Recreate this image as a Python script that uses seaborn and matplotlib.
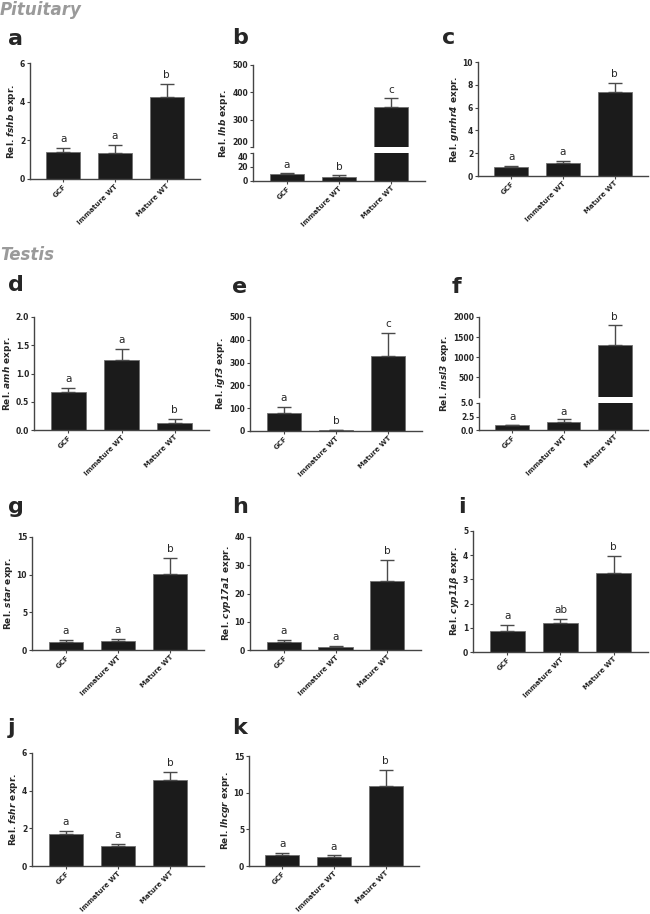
import numpy as np
import pandas as pd
import matplotlib
matplotlib.use('Agg')
import matplotlib.pyplot as plt
import seaborn as sns

# gruplar (x ekseni)
groups = ['GCF', 'Immature WT', 'Mature WT']

# hipofiz genleri: ortalama, hata (SEM, sadece yukarı) ve anlamlılık harfleri
fshb_mean = [1.38, 1.35, 4.25]
fshb_err = [0.22, 0.40, 0.65]
fshb_sig = ['a', 'a', 'b']

lhb_mean = [9.3, 5.4, 346]
lhb_err = [2.4, 3.4, 34]
lhb_sig = ['a', 'b', 'c']

gnrhr4_mean = [0.80, 1.10, 7.35]
gnrhr4_err = [0.06, 0.20, 0.80]
gnrhr4_sig = ['a', 'a', 'b']

# testis genleri
amh_mean = [0.67, 1.24, 0.12]
amh_err = [0.08, 0.20, 0.07]
amh_sig = ['a', 'a', 'b']

igf3_mean = [78, 3, 330]
igf3_err = [28, 3, 98]
igf3_sig = ['a', 'b', 'c']

insl3_mean = [0.85, 1.45, 1310]
insl3_err = [0.15, 0.55, 490]
insl3_sig = ['a', 'a', 'b']

star_mean = [1.10, 1.15, 10.1]
star_err = [0.20, 0.25, 2.1]
star_sig = ['a', 'a', 'b']

cyp17a1_mean = [2.8, 1.1, 24.6]
cyp17a1_err = [0.6, 0.4, 7.4]
cyp17a1_sig = ['a', 'a', 'b']

cyp11b_mean = [0.88, 1.18, 3.25]
cyp11b_err = [0.24, 0.17, 0.72]
cyp11b_sig = ['a', 'ab', 'b']

fshr_mean = [1.72, 1.05, 4.58]
fshr_err = [0.15, 0.13, 0.40]
fshr_sig = ['a', 'a', 'b']

lhcgr_mean = [1.55, 1.20, 10.85]
lhcgr_err = [0.20, 0.25, 2.20]
lhcgr_sig = ['a', 'a', 'b']

W, H = 650, 914
BAR = '#1b1b1b'
EDGE = '#707070'
ERR = '#4a4a4a'
SPINE = '#444444'
TICK_FS = 5.5
XLAB_FS = 5.0
YLAB_FS = 6.5
SIG_FS = 7.5

sns.set_theme(style='ticks')
plt.rcParams['font.family'] = ['DejaVu Sans']
plt.rcParams['mathtext.fontset'] = 'dejavusans'

fig = plt.figure(figsize=(W / 100, H / 100), dpi=100)

# y etiketleri sonradan (tick yazılarının soluna) yerleştirilecek
ylabels = []


# piksel kutusundan eksen oluşturuyorum (sol, üst, sağ, alt)
def px_ax(l, t, r, b):
    return fig.add_axes([l / W, 1 - b / H, (r - l) / W, (b - t) / H])


def style_ax(ax, show_x=True):
    for s in ['top', 'right']:
        ax.spines[s].set_visible(False)
    for s in ['left', 'bottom']:
        ax.spines[s].set_color(SPINE)
        ax.spines[s].set_linewidth(1.0)
    ax.tick_params(axis='y', labelsize=TICK_FS, length=2.5, width=0.8, color=SPINE, pad=1)
    ax.tick_params(axis='x', labelsize=XLAB_FS, length=2.5, width=0.8, color=SPINE, pad=0.5)
    for lab in ax.get_yticklabels():
        lab.set_fontweight('bold')
    ax.set_xlabel('')
    ax.set_ylabel('')
    if show_x:
        ax.set_xticks(range(len(groups)))
        ax.set_xticklabels(groups, rotation=45, ha='right', rotation_mode='anchor',
                           fontweight='bold', fontsize=XLAB_FS)
    else:
        ax.spines['bottom'].set_visible(False)
        ax.tick_params(axis='x', bottom=False, labelbottom=False)
    ax.set_xlim(-0.65, 2.65)


def draw_bars(ax, mean, err, ymin=None):
    df = pd.DataFrame({'grup': groups, 'deger': mean})
    sns.barplot(data=df, x='grup', y='deger', color=BAR, edgecolor=EDGE,
                linewidth=0.6, width=0.66, saturation=1, errorbar=None, ax=ax)
    idx = [i for i in range(len(mean)) if ymin is None or mean[i] + err[i] > ymin]
    m = [mean[i] for i in idx]
    e = [err[i] for i in idx]
    ax.errorbar(idx, m, yerr=[np.zeros(len(e)), e], fmt='none',
                ecolor=ERR, elinewidth=1.0, capsize=5, capthick=1.0, zorder=1)


def add_sig(ax, mean, err, sig, which=None, off=0.035):
    lo, hi = ax.get_ylim()
    for i, (m, e, s) in enumerate(zip(mean, err, sig)):
        if which is not None and i not in which:
            continue
        ax.text(i, m + e + off * (hi - lo), s, ha='center', va='bottom', fontsize=SIG_FS)


def add_letter(letter, letter_xy):
    fig.text(letter_xy[0] / W, 1 - letter_xy[1] / H, letter, fontsize=16,
             fontweight='bold', ha='left', va='center')


def panel(box, mean, err, sig, ylim, yticks, gene, letter, letter_xy, fmt=None):
    l, t, r, b = box
    ax = px_ax(l, t, r, b)
    draw_bars(ax, mean, err)
    ax.set_ylim(*ylim)
    ax.set_yticks(yticks)
    if fmt:
        ax.set_yticklabels([fmt.format(v) for v in yticks])
    style_ax(ax)
    add_sig(ax, mean, err, sig)
    ylabels.append(([ax], (t + b) / 2, gene))
    add_letter(letter, letter_xy)
    return ax


def broken_panel(box_up, box_lo, mean, err, sig, ylim_up, yt_up, ylim_lo, yt_lo,
                 gene, letter, letter_xy, fmt_lo=None):
    l, t, r, b = box_up
    ax_u = px_ax(l, t, r, b)
    draw_bars(ax_u, mean, err, ymin=ylim_up[0])
    ax_u.set_ylim(*ylim_up)
    ax_u.set_yticks(yt_up)
    style_ax(ax_u, show_x=False)
    add_sig(ax_u, mean, err, sig, which=[2])

    l2, t2, r2, b2 = box_lo
    ax_l = px_ax(l2, t2, r2, b2)
    draw_bars(ax_l, mean, err)
    ax_l.set_ylim(*ylim_lo)
    ax_l.set_yticks(yt_lo)
    if fmt_lo:
        ax_l.set_yticklabels([fmt_lo.format(v) for v in yt_lo])
    style_ax(ax_l)
    add_sig(ax_l, mean, err, sig, which=[0, 1], off=0.09)

    # kırık eksende birbirine değen iki etiketi biraz ayırıyorum
    if yt_up[0] == ylim_up[0]:
        ax_u.get_yticklabels()[0].set_va('bottom')
        ax_l.get_yticklabels()[-1].set_va('top')

    ylabels.append(([ax_u, ax_l], (t + b2) / 2, gene))
    add_letter(letter, letter_xy)


# bölüm başlıkları
fig.text(0, 1 - 1 / H, 'Pituitary', fontsize=12, fontweight='bold', style='italic',
         color='#9a9a9a', ha='left', va='top')
fig.text(0, 1 - 246 / H, 'Testis', fontsize=12, fontweight='bold', style='italic',
         color='#9a9a9a', ha='left', va='top')

# hipofiz paneli
panel((30, 63, 200, 179), fshb_mean, fshb_err, fshb_sig, (0, 6), [0, 2, 4, 6],
      'fshb', 'a', (8, 39))
broken_panel((253, 65, 425, 147), (253, 153, 425, 181), lhb_mean, lhb_err, lhb_sig,
             (200, 500), [200, 300, 400, 500], (0, 40), [0, 20, 40],
             'lhb', 'b', (232, 38))
panel((478, 62, 648, 176), gnrhr4_mean, gnrhr4_err, gnrhr4_sig, (0, 10),
      [0, 2, 4, 6, 8, 10], 'gnrhr4', 'c', (442, 38))

# testis panelleri
panel((34, 317, 209, 430), amh_mean, amh_err, amh_sig, (0, 2.0),
      [0, 0.5, 1.0, 1.5, 2.0], 'amh', 'd', (8, 285), fmt='{:.1f}')
panel((250, 317, 422, 431), igf3_mean, igf3_err, igf3_sig, (0, 500),
      [0, 100, 200, 300, 400, 500], 'igf3', 'e', (232, 287))
broken_panel((479, 317, 648, 397), (479, 403, 648, 430), insl3_mean, insl3_err,
             insl3_sig, (5, 2000), [500, 1000, 1500, 2000], (0, 5),
             [0, 2.5, 5.0], 'insl3', 'f', (452, 287), fmt_lo='{:.1f}')

panel((32, 537, 204, 650), star_mean, star_err, star_sig, (0, 15), [0, 5, 10, 15],
      'star', 'g', (8, 507))
panel((250, 537, 421, 650), cyp17a1_mean, cyp17a1_err, cyp17a1_sig, (0, 40),
      [0, 10, 20, 30, 40], 'cyp17a1', 'h', (232, 507))
panel((473, 531, 648, 652), cyp11b_mean, cyp11b_err, cyp11b_sig, (0, 5),
      [0, 1, 2, 3, 4, 5], 'cyp11\\beta', 'i', (458, 507))

panel((32, 753, 204, 866), fshr_mean, fshr_err, fshr_sig, (0, 6), [0, 2, 4, 6],
      'fshr', 'j', (8, 728))
panel((249, 756, 419, 866), lhcgr_mean, lhcgr_err, lhcgr_sig, (0, 15), [0, 5, 10, 15],
      'lhcgr', 'k', (232, 728))

# y eksen etiketlerini tick yazılarının hemen soluna koyuyorum
fig.canvas.draw()
renderer = fig.canvas.get_renderer()
for axes, yc, gene in ylabels:
    x_min = min(lab.get_window_extent(renderer).x0
                for a in axes for lab in a.get_yticklabels() if lab.get_text())
    fig.text((x_min - 2) / W, 1 - yc / H, 'Rel. $\\mathbfit{' + gene + '}$ expr.',
             rotation=90, ha='right', va='center', fontsize=YLAB_FS, fontweight='bold')

fig.savefig('out.png', dpi=100)
